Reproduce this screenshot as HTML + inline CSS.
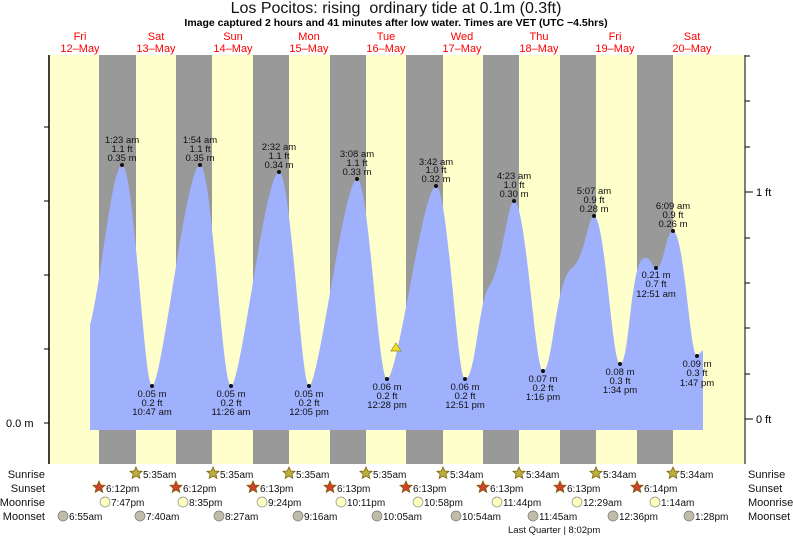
<!DOCTYPE html>
<html><head><meta charset="utf-8"><style>
body{margin:0;background:#fff}
svg{display:block;font-family:"Liberation Sans",sans-serif}
</style></head><body>
<svg width="793" height="538" viewBox="0 0 793 538" xmlns="http://www.w3.org/2000/svg">
<rect x="49" y="55" width="696" height="409" fill="#ffffcc"/>
<g fill="#999">
<rect x="99" y="55" width="37" height="409"/>
<rect x="176" y="55" width="36" height="409"/>
<rect x="253" y="55" width="36" height="409"/>
<rect x="330" y="55" width="36" height="409"/>
<rect x="406" y="55" width="37" height="409"/>
<rect x="483" y="55" width="36" height="409"/>
<rect x="560" y="55" width="36" height="409"/>
<rect x="637" y="55" width="36" height="409"/>
</g>
<path fill="#9fb1fd" d="M90,430 L90,325 C100,290 112,165 122,165 C134,165 144,386 152,386 C162,386 186,165 200,165 C212,165 222,386 231,386 C241,386 265,172 279,172 C291,172 301,386 309,386 C319,386 344,179 357,179 C369,179 378,379 387,379 C398,379 423,186 436,186 C448,186 457,379 465,379 C476,379 478,300 490,285 C502,265 508,201 514,201 C526,201 535,371 543,371 C553,371 555,280 572,268 C585,258 588,216 594,216 C605,216 612,364 620,364 C630,364 630,258 645,258 C652,258 652,268 656,268 C664,268 666,231 673,231 C684,231 690,356 697,356 L703,350 L703,430 Z"/>
<line x1="49" y1="55" x2="49" y2="464" stroke="#000" stroke-width="1.5"/>
<g stroke="#000" stroke-width="1"><line x1="44" y1="127" x2="49" y2="127"/><line x1="44" y1="201" x2="49" y2="201"/><line x1="44" y1="275" x2="49" y2="275"/><line x1="44" y1="349" x2="49" y2="349"/><line x1="44" y1="423" x2="49" y2="423"/></g>
<line x1="745" y1="55" x2="745" y2="464" stroke="#000" stroke-width="1"/>
<g stroke="#000"><line x1="745" y1="56" x2="750" y2="56"/><line x1="745" y1="101" x2="750" y2="101"/><line x1="745" y1="147" x2="750" y2="147"/><line x1="745" y1="192" x2="753" y2="192"/><line x1="745" y1="238" x2="750" y2="238"/><line x1="745" y1="283" x2="750" y2="283"/><line x1="745" y1="328" x2="750" y2="328"/><line x1="745" y1="374" x2="750" y2="374"/><line x1="745" y1="419" x2="753" y2="419"/></g>
<text x="756" y="196" font-size="11">1 ft</text>
<text x="756" y="423" font-size="11">0 ft</text>
<text x="6" y="427" font-size="11">0.0 m</text>
<text x="396" y="13" font-size="16" text-anchor="middle" fill="#111" xml:space="preserve">Los Pocitos: rising  ordinary tide at 0.1m (0.3ft)</text>
<text x="396" y="26" font-size="10.5" font-weight="bold" text-anchor="middle">Image captured 2 hours and 41 minutes after low water. Times are VET (UTC −4.5hrs)</text>
<g font-size="11" fill="#f00" text-anchor="middle">
<text x="80" y="40">Fri</text><text x="80" y="52">12–May</text>
<text x="156" y="40">Sat</text><text x="156" y="52">13–May</text>
<text x="233" y="40">Sun</text><text x="233" y="52">14–May</text>
<text x="309" y="40">Mon</text><text x="309" y="52">15–May</text>
<text x="386" y="40">Tue</text><text x="386" y="52">16–May</text>
<text x="462" y="40">Wed</text><text x="462" y="52">17–May</text>
<text x="539" y="40">Thu</text><text x="539" y="52">18–May</text>
<text x="615" y="40">Fri</text><text x="615" y="52">19–May</text>
<text x="692" y="40">Sat</text><text x="692" y="52">20–May</text>
</g>
<g font-size="9.5" text-anchor="middle" fill="#111">
<circle cx="122" cy="165" r="2"/><text x="122" y="143">1:23 am</text><text x="122" y="152">1.1 ft</text><text x="122" y="161">0.35 m</text>
<circle cx="200" cy="165" r="2"/><text x="200" y="143">1:54 am</text><text x="200" y="152">1.1 ft</text><text x="200" y="161">0.35 m</text>
<circle cx="279" cy="172" r="2"/><text x="279" y="150">2:32 am</text><text x="279" y="159">1.1 ft</text><text x="279" y="168">0.34 m</text>
<circle cx="357" cy="179" r="2"/><text x="357" y="157">3:08 am</text><text x="357" y="166">1.1 ft</text><text x="357" y="175">0.33 m</text>
<circle cx="436" cy="186" r="2"/><text x="436" y="165">3:42 am</text><text x="436" y="173">1.0 ft</text><text x="436" y="182">0.32 m</text>
<circle cx="514" cy="201" r="2"/><text x="514" y="179">4:23 am</text><text x="514" y="188">1.0 ft</text><text x="514" y="197">0.30 m</text>
<circle cx="594" cy="216" r="2"/><text x="594" y="194">5:07 am</text><text x="594" y="203">0.9 ft</text><text x="594" y="212">0.28 m</text>
<circle cx="673" cy="231" r="2"/><text x="673" y="209">6:09 am</text><text x="673" y="218">0.9 ft</text><text x="673" y="227">0.26 m</text>
<circle cx="152" cy="386" r="2"/><text x="152" y="397">0.05 m</text><text x="152" y="406">0.2 ft</text><text x="152" y="415">10:47 am</text>
<circle cx="231" cy="386" r="2"/><text x="231" y="397">0.05 m</text><text x="231" y="406">0.2 ft</text><text x="231" y="415">11:26 am</text>
<circle cx="309" cy="386" r="2"/><text x="309" y="397">0.05 m</text><text x="309" y="406">0.2 ft</text><text x="309" y="415">12:05 pm</text>
<circle cx="387" cy="379" r="2"/><text x="387" y="390">0.06 m</text><text x="387" y="399">0.2 ft</text><text x="387" y="408">12:28 pm</text>
<circle cx="465" cy="379" r="2"/><text x="465" y="390">0.06 m</text><text x="465" y="399">0.2 ft</text><text x="465" y="408">12:51 pm</text>
<circle cx="543" cy="371" r="2"/><text x="543" y="382">0.07 m</text><text x="543" y="391">0.2 ft</text><text x="543" y="400">1:16 pm</text>
<circle cx="620" cy="364" r="2"/><text x="620" y="375">0.08 m</text><text x="620" y="384">0.3 ft</text><text x="620" y="393">1:34 pm</text>
<circle cx="656" cy="268" r="2"/><text x="656" y="278">0.21 m</text><text x="656" y="287">0.7 ft</text><text x="656" y="297">12:51 am</text>
<circle cx="697" cy="356" r="2"/><text x="697" y="367">0.09 m</text><text x="697" y="376">0.3 ft</text><text x="697" y="386">1:47 pm</text>
</g>
<polygon points="396,343 391,351 401,351" fill="#e8e030" stroke="#998800" stroke-width="0.7"/>
<g font-size="11" fill="#111">
<text x="45" y="478" text-anchor="end">Sunrise</text><text x="45" y="492" text-anchor="end">Sunset</text><text x="45" y="506" text-anchor="end">Moonrise</text><text x="45" y="520" text-anchor="end">Moonset</text>
<text x="748" y="478">Sunrise</text><text x="748" y="492">Sunset</text><text x="748" y="506">Moonrise</text><text x="748" y="520">Moonset</text>
</g>
<g font-size="10" fill="#111">
<g fill="#b8b040" stroke="#806000" stroke-width="0.8">
<path id="s1" d="M136,467 l1.8,4 4.2,0.3 -3.2,2.8 1,4.2 -3.8,-2.3 -3.8,2.3 1,-4.2 -3.2,-2.8 4.2,-0.3z"/>
<use href="#s1" x="77"/><use href="#s1" x="153"/><use href="#s1" x="230"/><use href="#s1" x="307"/><use href="#s1" x="383"/><use href="#s1" x="460"/><use href="#s1" x="537"/>
</g>
<g fill="#d04030" stroke="#806000" stroke-width="0.8">
<path id="s2" d="M99,481 l1.8,4 4.2,0.3 -3.2,2.8 1,4.2 -3.8,-2.3 -3.8,2.3 1,-4.2 -3.2,-2.8 4.2,-0.3z"/>
<use href="#s2" x="77"/><use href="#s2" x="154"/><use href="#s2" x="231"/><use href="#s2" x="307"/><use href="#s2" x="384"/><use href="#s2" x="461"/><use href="#s2" x="538"/>
</g>
<text x="143" y="478">5:35am</text><text x="220" y="478">5:35am</text><text x="296" y="478">5:35am</text><text x="373" y="478">5:35am</text><text x="450" y="478">5:34am</text><text x="526" y="478">5:34am</text><text x="603" y="478">5:34am</text><text x="680" y="478">5:34am</text>
<text x="106" y="492">6:12pm</text><text x="183" y="492">6:12pm</text><text x="260" y="492">6:13pm</text><text x="337" y="492">6:13pm</text><text x="413" y="492">6:13pm</text><text x="490" y="492">6:13pm</text><text x="567" y="492">6:13pm</text><text x="644" y="492">6:14pm</text>
<g fill="#ffffc0" stroke="#888" stroke-width="0.7">
<circle cx="105" cy="502" r="5"/><circle cx="183" cy="502" r="5"/><circle cx="262" cy="502" r="5"/><circle cx="341" cy="502" r="5"/><circle cx="418" cy="502" r="5"/><circle cx="497" cy="502" r="5"/><circle cx="577" cy="502" r="5"/><circle cx="655" cy="502" r="5"/>
</g>
<text x="111" y="506">7:47pm</text><text x="189" y="506">8:35pm</text><text x="268" y="506">9:24pm</text><text x="347" y="506">10:11pm</text><text x="424" y="506">10:58pm</text><text x="503" y="506">11:44pm</text><text x="583" y="506">12:29am</text><text x="661" y="506">1:14am</text>
<g fill="#c0bcaa" stroke="#777" stroke-width="0.7">
<circle cx="63" cy="516" r="5"/><circle cx="140" cy="516" r="5"/><circle cx="219" cy="516" r="5"/><circle cx="298" cy="516" r="5"/><circle cx="377" cy="516" r="5"/><circle cx="456" cy="516" r="5"/><circle cx="533" cy="516" r="5"/><circle cx="613" cy="516" r="5"/><circle cx="689" cy="516" r="5"/>
</g>
<text x="69" y="520">6:55am</text><text x="146" y="520">7:40am</text><text x="225" y="520">8:27am</text><text x="304" y="520">9:16am</text><text x="383" y="520">10:05am</text><text x="462" y="520">10:54am</text><text x="539" y="520">11:45am</text><text x="619" y="520">12:36pm</text><text x="695" y="520">1:28pm</text>
<text x="508" y="533" font-size="9.5">Last Quarter | 8:02pm</text>
</g>
</svg>
</body></html>
